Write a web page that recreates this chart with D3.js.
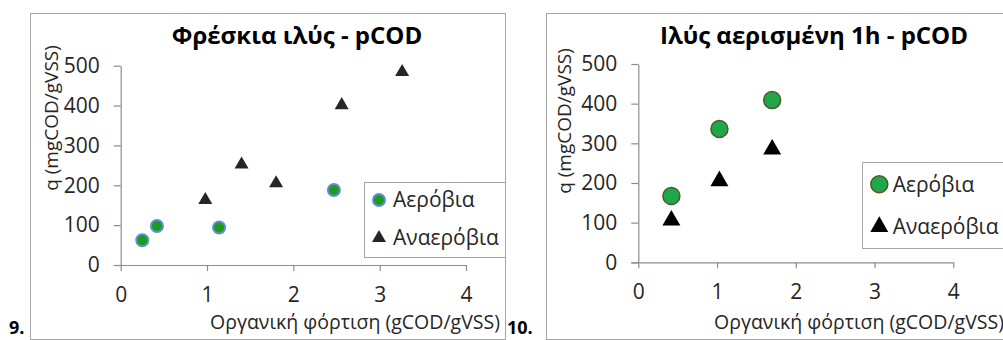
<!DOCTYPE html>
<html>
<head>
<meta charset="utf-8">
<script src="https://cdn.jsdelivr.net/npm/d3@7"></script>
<style>
  body { margin: 0; background: #fff; }
  svg { display: block; font-family: "Open Sans", sans-serif; }
</style>
</head>
<body>
<div id="chart"></div>
<script>
// tick values, shared by both panels
var xTicks = [0, 1, 2, 3, 4];
var yTicks = [0, 100, 200, 300, 400, 500];

var seriesNames = ["Αερόβια", "Αναερόβια"];
var titles = ["Φρέσκια ιλύς - pCOD", "Ιλύς αερισμένη 1h - pCOD"];
var panelLabels = ["9.", "10."];
var xTitle = "Οργανική φόρτιση (gCOD/gVSS)";
var yTitle = "q (mgCOD/gVSS)";

// panel 9: fresh sludge
var freshAerX = [0.25, 0.42, 1.14, 2.47];
var freshAerY = [62, 98, 94, 188];
var freshAnaerX = [0.98, 1.40, 1.80, 2.56, 3.26];
var freshAnaerY = [163, 252, 205, 401, 484];

// panel 10: sludge aerated 1h
var airAerX = [0.42, 1.03, 1.70];
var airAerY = [167, 336, 409];
var airAnaerX = [0.42, 1.03, 1.70];
var airAnaerY = [106, 205, 285];

var svg = d3.select("#chart").append("svg")
  .attr("width", 1003)
  .attr("height", 340);

function drawPanel(p) {
  var g = svg.append("g");

  // outer frame
  g.append("rect")
    .attr("x", p.frame[0] + 0.5).attr("y", p.frame[1] + 0.5)
    .attr("width", p.frame[2]).attr("height", p.frame[3])
    .attr("fill", "none").attr("stroke", "#a6a6a6").attr("stroke-width", 1);

  var x = d3.scaleLinear().domain([0, 4]).range([p.x0, p.x1]);
  var y = d3.scaleLinear().domain([0, 500]).range([p.y0, p.y1]);

  var xAxis = g.append("g")
    .attr("transform", "translate(0," + p.y0 + ")")
    .call(d3.axisBottom(x).tickValues(xTicks).tickFormat(d3.format("d"))
      .tickSize(6).tickSizeOuter(0).tickPadding(16));
  var yAxis = g.append("g")
    .attr("transform", "translate(" + p.x0 + ",0)")
    .call(d3.axisLeft(y).tickValues(yTicks).tickFormat(d3.format("d"))
      .tickSize(7).tickSizeOuter(0).tickPadding(14));

  [xAxis, yAxis].forEach(function(a) {
    a.select(".domain").attr("stroke", "#8c8c8c").attr("stroke-width", 1.2);
    a.selectAll(".tick line").attr("stroke", "#8c8c8c").attr("stroke-width", 1.2);
    a.selectAll(".tick text")
      .attr("fill", "#262626")
      .style("font-size", "21px")
      .style("font-family", "'Open Sans', sans-serif");
  });
  // x-axis line starts at the end of the 0 tick on the left
  xAxis.select(".domain").attr("d", "M" + (p.x0 - 7) + ",0.5H" + p.x1);

  // title
  g.append("text")
    .attr("x", p.titleX).attr("y", 44)
    .attr("text-anchor", "middle")
    .attr("font-size", "24px").attr("font-weight", "bold")
    .attr("fill", "#000")
    .text(p.title);

  // axis titles
  g.append("text")
    .attr("x", p.xTitleX).attr("y", 329)
    .attr("text-anchor", "middle")
    .attr("font-size", "19.5px").attr("fill", "#262626")
    .text(xTitle);
  g.append("text")
    .attr("transform", "translate(" + p.yTitleX + "," + p.yTitleY + ") rotate(-90)")
    .attr("text-anchor", "middle")
    .attr("font-size", "19px").attr("fill", "#262626")
    .text(yTitle);

  // points
  var aer = p.aerX.map(function(v, i) { return [v, p.aerY[i]]; });
  var anaer = p.anaerX.map(function(v, i) { return [v, p.anaerY[i]]; });

  var tri = d3.symbol().type(d3.symbolTriangle).size(p.triSize);

  g.selectAll(".anaer").data(anaer).enter().append("path")
    .attr("class", "anaer")
    .attr("d", tri)
    .attr("transform", function(d) { return "translate(" + x(d[0]) + "," + y(d[1]) + ")"; })
    .attr("fill", p.triColor);

  g.selectAll(".aer").data(aer).enter().append("circle")
    .attr("class", "aer")
    .attr("cx", function(d) { return x(d[0]); })
    .attr("cy", function(d) { return y(d[1]); })
    .attr("r", p.r)
    .attr("fill", p.dotFill)
    .attr("stroke", p.dotStroke)
    .attr("stroke-width", p.dotStrokeW);

  // legend
  var lg = g.append("g");
  lg.append("rect")
    .attr("x", p.legend[0] + 0.5).attr("y", p.legend[1] + 0.5)
    .attr("width", p.legend[2]).attr("height", p.legend[3])
    .attr("fill", "#fff").attr("stroke", "#a6a6a6");
  lg.append("circle")
    .attr("cx", p.legMarkX).attr("cy", p.legY[0]).attr("r", p.r)
    .attr("fill", p.dotFill).attr("stroke", p.dotStroke).attr("stroke-width", p.dotStrokeW);
  lg.append("path")
    .attr("d", tri)
    .attr("transform", "translate(" + p.legMarkX + "," + p.legY[1] + ")")
    .attr("fill", p.triColor);
  seriesNames.forEach(function(name, i) {
    lg.append("text")
      .attr("x", p.legTextX).attr("y", p.legY[i])
      .attr("dy", "0.35em")
      .attr("font-size", "21px").attr("fill", "#262626")
      .text(name);
  });

  // panel number
  svg.append("text")
    .attr("x", p.labelX).attr("y", 334)
    .attr("font-size", "18px").attr("font-weight", "bold")
    .attr("fill", "#000")
    .text(p.label);
}

drawPanel({
  frame: [30, 13, 475, 326],
  x0: 120.7, x1: 466, y0: 265, y1: 65.7,
  title: titles[0], titleX: 297,
  xTitleX: 355, yTitleX: 58, yTitleY: 118,
  aerX: freshAerX, aerY: freshAerY, anaerX: freshAnaerX, anaerY: freshAnaerY,
  r: 6, dotFill: "#1e9a1e", dotStroke: "#5b8fd6", dotStrokeW: 2,
  triSize: 85, triColor: "#262626",
  legend: [364, 182, 141, 75], legMarkX: 379, legY: [200, 238], legTextX: 393,
  label: panelLabels[0], labelX: 9
});

drawPanel({
  frame: [546, 13, 480, 326],
  x0: 638.3, x1: 953.3, y0: 262.3, y1: 64,
  title: titles[1], titleX: 814,
  xTitleX: 859, yTitleX: 571, yTitleY: 121,
  aerX: airAerX, aerY: airAerY, anaerX: airAnaerX, anaerY: airAnaerY,
  r: 8.5, dotFill: "#1ea84a", dotStroke: "#4e5b2a", dotStrokeW: 1.5,
  triSize: 140, triColor: "#000",
  legend: [862, 162, 160, 86], legMarkX: 879.3, legY: [184.3, 226.7], legTextX: 892.7,
  label: panelLabels[1], labelX: 507
});
</script>
</body>
</html>
